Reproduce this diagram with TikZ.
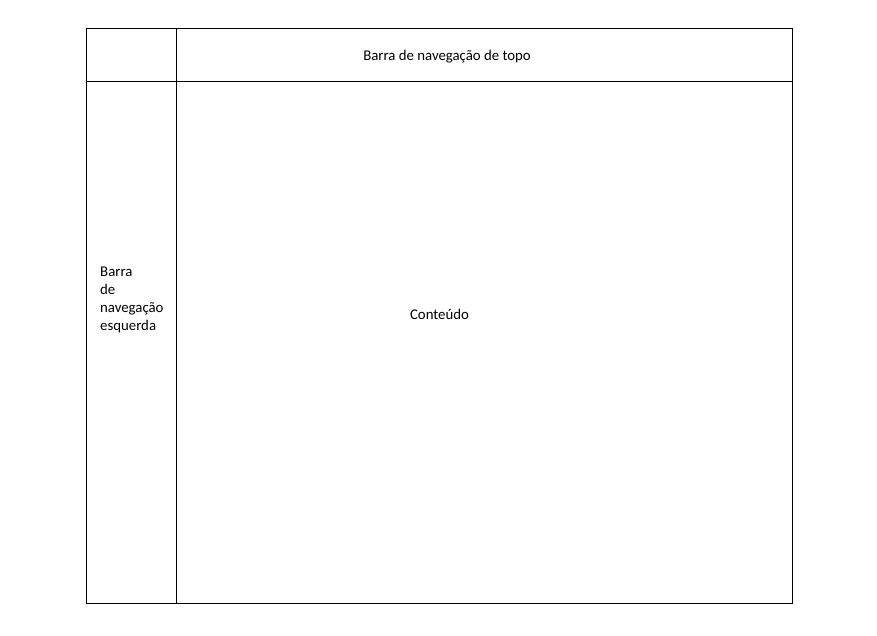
\documentclass[tikz,border=0pt]{standalone}
\usepackage{fontspec}
\setmainfont{Carlito}
\usepackage{tikz}

\begin{document}
\begin{tikzpicture}[x=1pt, y=1pt]
[every node/.style={inner sep=0pt}]
\tikzset{label/.style={inner sep=0pt, font=\fontsize{14.8pt}{18pt}\selectfont}}
\useasboundingbox (0,0) rectangle (877,-635);
\fill [white] (0,0) rectangle (877,-635);
\draw [line width=1pt, color=black] (86,-28) rectangle (792,-603);
\draw [line width=1pt, color=black] (176,-28) to (176,-603);
\draw [line width=1pt, color=black] (86,-81.5) to (792,-81.5);
\node (top) [label] at (447,-57) {Barra de navega\c{c}\~ao de topo};
\node (left) [label, anchor=west, align=left] at (100,-300) {Barra\\de\\navega\c{c}\~ao\\esquerda};
\node (content) [label] at (439.5,-314) {Conte\'udo};
\end{tikzpicture}
\end{document}
